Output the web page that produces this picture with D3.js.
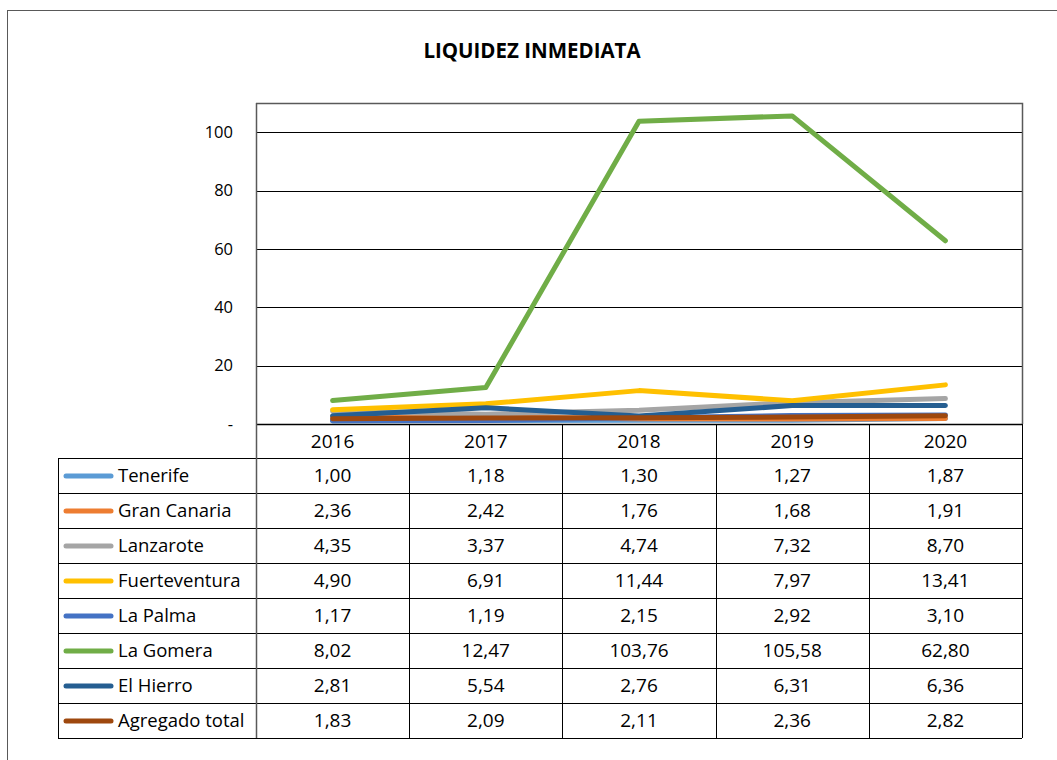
<!DOCTYPE html>
<html>
<head>
<meta charset="utf-8">
<script src="https://cdn.jsdelivr.net/npm/d3@7"></script>
<style>
  body { margin: 0; background: #fff; }
  text { font-family: "Open Sans", Lato, sans-serif; fill: #000; }
</style>
</head>
<body>
<div id="chart"></div>
<script>
// data
var years = ['2016', '2017', '2018', '2019', '2020'];
var islands = ['Tenerife', 'Gran Canaria', 'Lanzarote', 'Fuerteventura', 'La Palma', 'La Gomera', 'El Hierro', 'Agregado total'];
var tenerife = [1.00, 1.18, 1.30, 1.27, 1.87];
var granCanaria = [2.36, 2.42, 1.76, 1.68, 1.91];
var lanzarote = [4.35, 3.37, 4.74, 7.32, 8.70];
var fuerteventura = [4.90, 6.91, 11.44, 7.97, 13.41];
var laPalma = [1.17, 1.19, 2.15, 2.92, 3.10];
var laGomera = [8.02, 12.47, 103.76, 105.58, 62.80];
var elHierro = [2.81, 5.54, 2.76, 6.31, 6.36];
var agregado = [1.83, 2.09, 2.11, 2.36, 2.82];
var yTicks = [0, 20, 40, 60, 80, 100];
var colors = ['#5B9BD5', '#ED7D31', '#A5A5A5', '#FFC000', '#4472C4', '#70AD47', '#255E91', '#9E480E'];

var series = [tenerife, granCanaria, lanzarote, fuerteventura, laPalma, laGomera, elHierro, agregado];

var W = 1057, H = 760;
var plotLeft = 256, plotRight = 1022, plotTop = 103, plotBottom = 424;
var tableLeft = 58, headerBottom = 458, rowH = 35;

var fmt = d3.formatLocale({decimal: ',', thousands: '.', grouping: [3], currency: ['', '']}).format('.2f');

var svg = d3.select('#chart').append('svg')
    .attr('width', W)
    .attr('height', H);

// outer frame
svg.append('rect')
    .attr('x', 7.5)
    .attr('y', 10.5)
    .attr('width', W + 20)
    .attr('height', H + 20)
    .style('fill', 'none')
    .style('stroke', '#595959')
    .style('stroke-width', '1px');

svg.append('text')
    .attr('x', 532)
    .attr('y', 58)
    .attr('text-anchor', 'middle')
    .style('font-weight', 'bold')
    .style('font-size', '20.5px')
    .text('LIQUIDEZ INMEDIATA');

var x = d3.scaleBand().domain(years).range([plotLeft, plotRight]);
var y = d3.scaleLinear().domain([0, 110]).range([plotBottom, plotTop]);

// gridlines
svg.append('g')
    .selectAll('line')
    .data(yTicks.slice(1))
    .join('line')
    .attr('x1', plotLeft)
    .attr('x2', plotRight)
    .attr('y1', function(d) { return Math.round(y(d)) + 0.5; })
    .attr('y2', function(d) { return Math.round(y(d)) + 0.5; })
    .style('stroke', '#000')
    .style('stroke-width', '1px');

// plot frame (top/right)
svg.append('path')
    .attr('d', 'M' + plotLeft + ',' + (plotTop + 0.5) + 'H' + (plotRight + 0.5) + 'V' + plotBottom)
    .style('fill', 'none')
    .style('stroke', '#595959')
    .style('stroke-width', '1.5px');

// y axis labels
var yAxis = d3.axisLeft(y)
    .tickValues(yTicks)
    .tickSize(0)
    .tickPadding(23)
    .tickFormat(function(d) { return d === 0 ? '-' : d; });
var gy = svg.append('g')
    .attr('transform', 'translate(' + plotLeft + ',0)')
    .call(yAxis);
gy.select('.domain').remove();
gy.selectAll('text')
    .style('font-family', '"Open Sans", sans-serif')
    .style('font-size', '16.5px')
    .style('fill', '#000');

// lines
var line = d3.line()
    .x(function(d, i) { return x(years[i]) + x.bandwidth() / 2; })
    .y(function(d) { return y(d); });

svg.append('g')
    .selectAll('path')
    .data(series)
    .join('path')
    .attr('d', line)
    .style('fill', 'none')
    .style('stroke', function(d, i) { return colors[i]; })
    .style('stroke-width', '5px')
    .style('stroke-linecap', 'round')
    .style('stroke-linejoin', 'round');

// data table
var tableBottom = headerBottom + rowH * islands.length;
var tbl = svg.append('g');

// x axis line
tbl.append('line')
    .attr('x1', plotLeft).attr('x2', plotRight)
    .attr('y1', plotBottom + 0.5).attr('y2', plotBottom + 0.5)
    .style('stroke', '#000').style('stroke-width', '1.5px');

// row lines
tbl.selectAll('line.row')
    .data(d3.range(islands.length + 1))
    .join('line')
    .attr('class', 'row')
    .attr('x1', tableLeft)
    .attr('x2', plotRight)
    .attr('y1', function(i) { return headerBottom + i * rowH + 0.5; })
    .attr('y2', function(i) { return headerBottom + i * rowH + 0.5; })
    .style('stroke', '#000')
    .style('stroke-width', '1px');

// column lines
tbl.selectAll('line.col')
    .data(years.concat(['end']))
    .join('line')
    .attr('class', 'col')
    .attr('x1', function(d) { return Math.round(d === 'end' ? plotRight : x(d)) + 0.5; })
    .attr('x2', function(d) { return Math.round(d === 'end' ? plotRight : x(d)) + 0.5; })
    .attr('y1', function(d) { return d === years[0] ? plotTop : plotBottom; })
    .attr('y2', tableBottom)
    .style('stroke', function(d) { return d === years[0] ? '#595959' : '#000'; })
    .style('stroke-width', function(d) { return d === years[0] ? '1.5px' : '1px'; });

tbl.append('line')
    .attr('x1', tableLeft + 0.5).attr('x2', tableLeft + 0.5)
    .attr('y1', headerBottom).attr('y2', tableBottom)
    .style('stroke', '#000').style('stroke-width', '1px');

// year header
tbl.selectAll('text.year')
    .data(years)
    .join('text')
    .attr('class', 'year')
    .attr('x', function(d) { return x(d) + x.bandwidth() / 2; })
    .attr('y', (plotBottom + headerBottom) / 2)
    .attr('dy', '0.35em')
    .attr('text-anchor', 'middle')
    .style('font-size', '19px')
    .text(function(d) { return d; });

// legend keys + names
var rows = tbl.selectAll('g.r')
    .data(islands)
    .join('g')
    .attr('class', 'r')
    .attr('transform', function(d, i) { return 'translate(0,' + (headerBottom + i * rowH + rowH / 2) + ')'; });

rows.append('line')
    .attr('x1', 66).attr('x2', 111)
    .attr('y1', 0.5).attr('y2', 0.5)
    .style('stroke', function(d, i) { return colors[i]; })
    .style('stroke-width', '5px')
    .style('stroke-linecap', 'round');

rows.append('text')
    .attr('x', 118)
    .attr('dy', '0.35em')
    .style('font-size', '18.5px')
    .text(function(d) { return d; });

rows.selectAll('text.v')
    .data(function(d, i) { return series[i]; })
    .join('text')
    .attr('class', 'v')
    .attr('x', function(d, j) { return x(years[j]) + x.bandwidth() / 2; })
    .attr('dy', '0.35em')
    .attr('text-anchor', 'middle')
    .style('font-size', '19px')
    .text(function(d) { return fmt(d); });
</script>
</body>
</html>
